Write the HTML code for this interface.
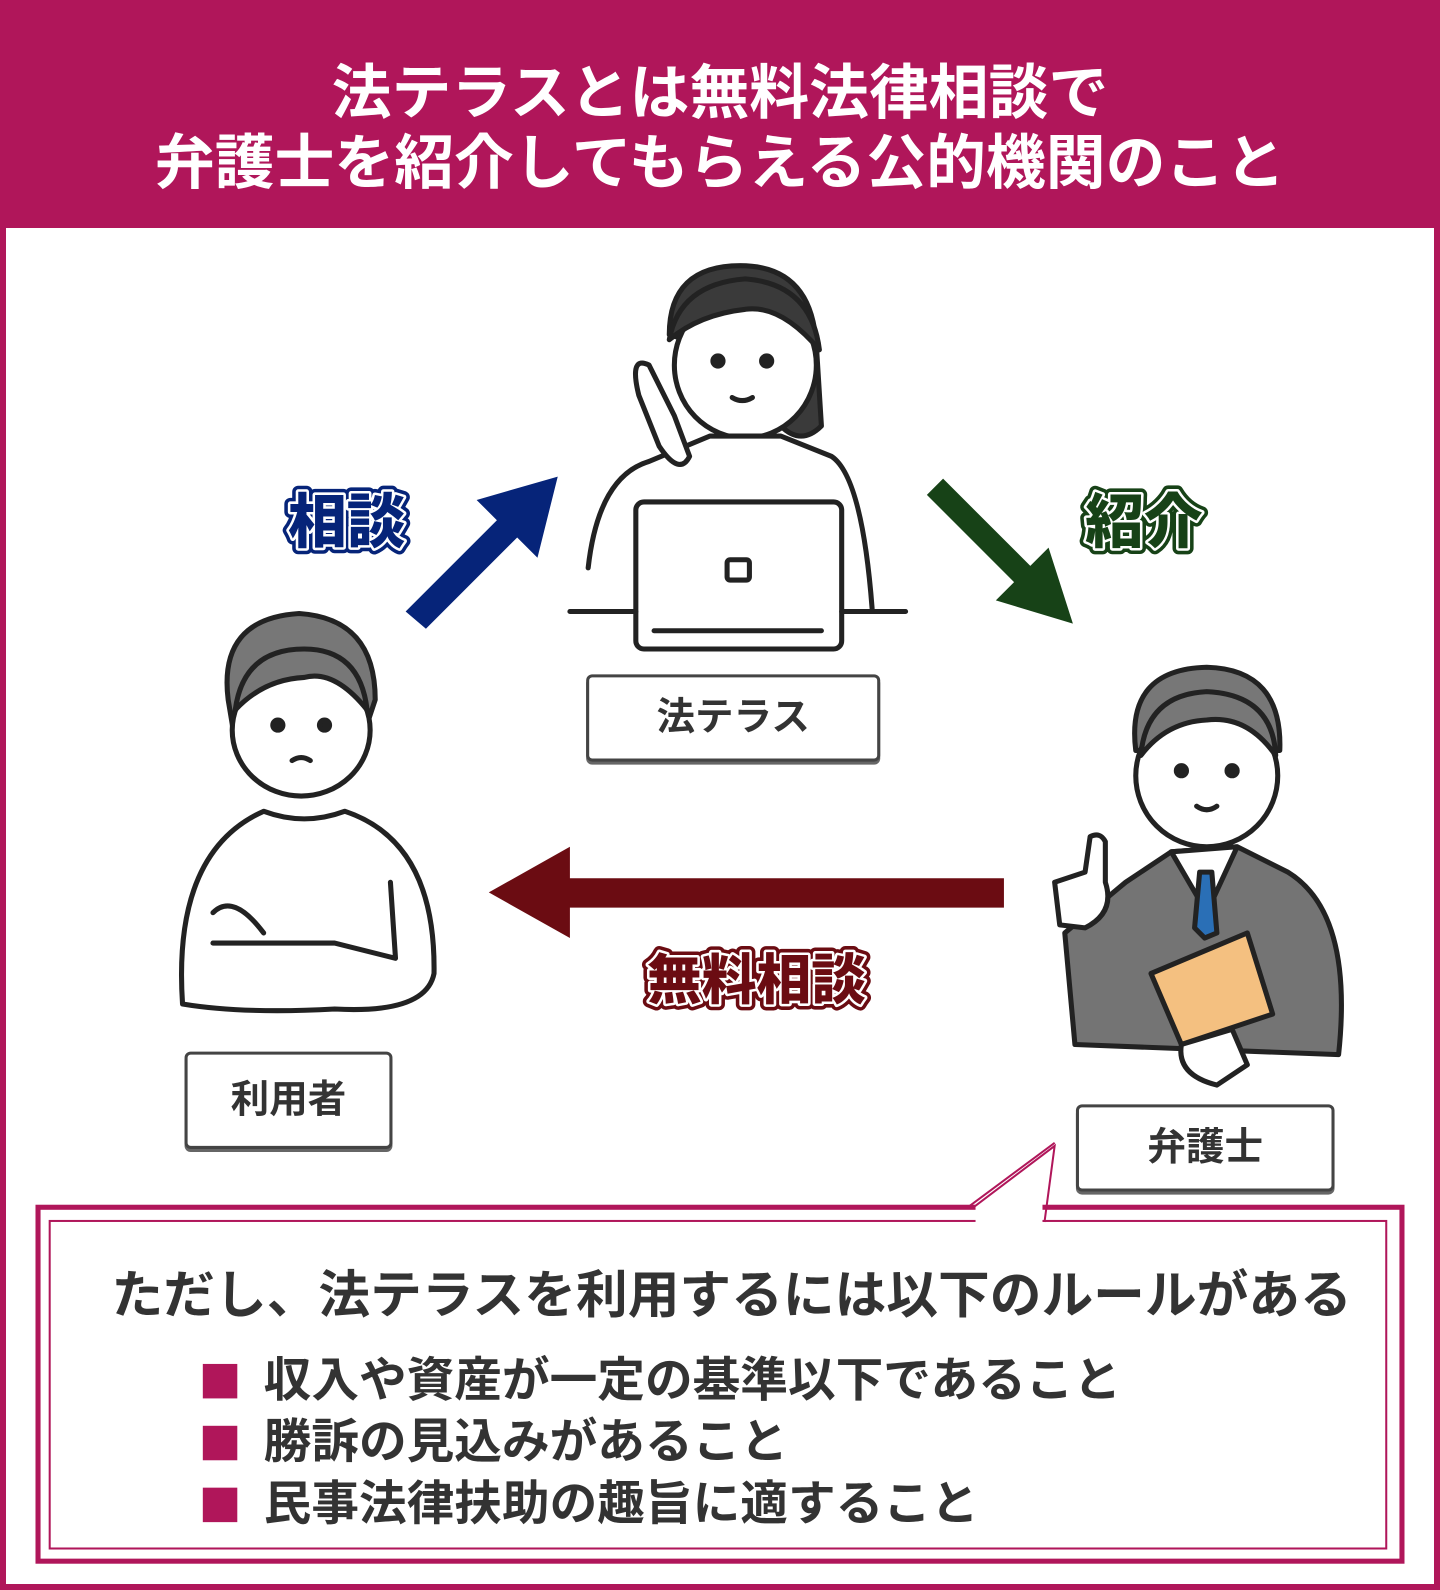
<!DOCTYPE html>
<html><head><meta charset="utf-8"><style>
body{margin:0;width:1440px;height:1590px;background:#fff;font-family:"Liberation Sans","Noto Sans CJK JP",sans-serif;}
#w{position:relative;width:1440px;height:1590px;overflow:hidden;}
#s{position:absolute;left:0;top:0;width:1420px;height:1568px;transform:scale(1.01408);transform-origin:0 0;}
.frame{position:absolute;left:0;top:0;width:1428px;height:1578px;border:6px solid #b0165a;}
.hdr{position:absolute;left:0;top:0;width:1440px;height:228px;background:#b0165a;}
.ht{position:absolute;left:0;top:58px;width:1420px;color:#fff;text-align:center;font-weight:700;font-size:59px;line-height:69px;}
.lbl{position:absolute;border:3px solid #444;border-radius:6px;box-shadow:0 3px 0 #666;background:#fff;font-size:38px;font-weight:700;color:#333;text-align:center;box-sizing:border-box;}
.al{position:absolute;font-weight:900;font-size:58px;}
.box{position:absolute;left:35px;top:1188px;width:1350px;height:354px;border:5px solid #b0165a;box-sizing:border-box;}
.inbox{position:absolute;left:48px;top:1203px;width:1320px;height:325px;border:2px solid #b0165a;box-sizing:border-box;}
.t{position:absolute;color:#333;font-weight:700;font-size:47px;white-space:nowrap;}
.sq{display:inline-block;width:34px;height:34px;background:#b0165a;margin-right:26px;vertical-align:-2px;}
</style></head><body><div id="w">
<div class="hdr"></div>
<div class="frame"></div>
<div id="s">
<div class="ht">法テラスとは無料法律相談で<br>弁護士を紹介してもらえる公的機関のこと</div>

<svg style="position:absolute;left:0;top:0" width="1440" height="1590">
<g stroke="#222" stroke-width="5" stroke-linejoin="round" stroke-linecap="round">
<path d="M660 330 Q660 262 730 262 Q800 262 805 340 L810 420 Q790 440 770 420 L760 360 Z" fill="#3a3a3a"/>
<ellipse cx="735" cy="360" rx="70" ry="72" fill="#fff"/>
<path d="M660 335 Q670 280 735 275 Q800 280 808 345 Q770 300 735 305 Q690 310 660 335Z" fill="#3a3a3a"/>
<circle cx="708" cy="356" r="5" fill="#222"/><circle cx="756" cy="356" r="5" fill="#222"/>
<path d="M722 392 Q732 398 742 392" fill="none"/>
<path d="M580 560 Q590 470 640 455 L700 430 L770 430 L820 450 Q850 470 860 600" fill="#fff"/>
<path d="M640 360 Q620 350 630 390 L650 440 Q670 470 680 450 L665 410 Z" fill="#fff"/>
<rect x="627" y="495" width="203" height="145" rx="8" fill="#fff"/>
<rect x="717" y="552" width="22" height="20" rx="3" fill="#fff"/>
<path d="M645 622 H810 M562 603 H627 M830 603 H893"/>
<path d="M225 690 Q215 610 295 605 Q370 610 370 690 L360 720 L230 720Z" fill="#777"/>
<ellipse cx="297" cy="720" rx="68" ry="65" fill="#fff"/>
<path d="M232 700 Q240 640 300 640 Q355 640 362 700 Q330 660 300 668 Q260 670 232 700Z" fill="#777"/>
<circle cx="274" cy="715" r="5" fill="#222"/><circle cx="320" cy="715" r="5" fill="#222"/>
<path d="M288 750 Q297 744 306 750" fill="none"/>
<path d="M180 990 Q170 840 260 800 Q300 815 340 800 Q430 830 428 960 Q420 1000 330 995 Q240 1000 180 990Z" fill="#fff"/>
<path d="M210 930 L330 930 L390 945 L385 870 M210 900 Q230 880 260 920" fill="none"/>
<path d="M1120 740 Q1110 660 1190 658 Q1265 660 1262 740 Z" fill="#777"/>
<ellipse cx="1190" cy="765" rx="70" ry="70" fill="#fff"/>
<path d="M1125 745 Q1130 685 1190 682 Q1255 685 1258 745 Q1230 705 1190 710 Q1150 712 1125 745Z" fill="#777"/>
<circle cx="1165" cy="760" r="5" fill="#222"/><circle cx="1215" cy="760" r="5" fill="#222"/>
<path d="M1180 795 Q1190 802 1200 795" fill="none"/>
<path d="M1050 920 L1060 1030 L1320 1040 Q1335 900 1270 860 L1220 835 L1155 840 L1110 870 Z" fill="#747474"/>
<path d="M1155 840 L1190 900 L1220 835 Z" fill="#fff"/>
<path d="M1183 860 L1195 860 L1200 920 L1188 925 L1178 915Z" fill="#2a6fb6"/>
<path d="M1135 960 L1230 920 L1255 1000 L1165 1030Z" fill="#f4c080"/>
<path d="M1040 870 L1070 860 L1075 825 Q1085 820 1090 830 L1090 870 Q1100 900 1070 915 L1045 912 Z" fill="#fff"/>
<path d="M1165 1030 Q1160 1060 1200 1070 L1230 1050 L1215 1015 Z" fill="#fff"/>
</g>
<polygon points="400,603 490,513 470,493 550,470 530,550 510,530 420,620" fill="#062479"/>
<polygon points="930,472 1016,558 1034,540 1058,615 982,592 1000,574 914,488" fill="#174217"/>
<polygon points="990,866 562,866 562,835 482,880 562,925 562,895 990,895" fill="#6b0c12"/>
<g font-family="Liberation Sans, Noto Sans CJK JP, sans-serif" font-weight="900" paint-order="stroke" stroke-linejoin="round">
<text x="284" y="535" font-size="58" fill="#062479" stroke="#062479" stroke-width="12">相談</text>
<text x="284" y="535" font-size="58" fill="#062479" stroke="#fff" stroke-width="5">相談</text>
<text x="1070" y="535" font-size="58" fill="#174217" stroke="#174217" stroke-width="12">紹介</text>
<text x="1070" y="535" font-size="58" fill="#174217" stroke="#fff" stroke-width="5">紹介</text>
<text x="638" y="985" font-size="54" fill="#6b0c12" stroke="#6b0c12" stroke-width="12">無料相談</text>
<text x="638" y="985" font-size="54" fill="#6b0c12" stroke="#fff" stroke-width="5">無料相談</text>
</g>
</svg>

<div class="lbl" style="left:578px;top:665px;width:290px;height:86px;line-height:80px;">法テラス</div>
<div class="lbl" style="left:182px;top:1037px;width:205px;height:96px;line-height:90px;">利用者</div>
<div class="lbl" style="left:1061px;top:1089px;width:255px;height:86px;line-height:80px;">弁護士</div>

<div class="box"></div>
<div class="inbox"></div>
<svg style="position:absolute;left:0;top:0" width="1440" height="1590"><rect x="962" y="1183" width="66" height="24" fill="#fff"/><path d="M958 1192 L1040 1130 L1030 1205" fill="none" stroke="#b0165a" stroke-width="2"/><path d="M955 1190 L1040 1127" stroke="#b0165a" stroke-width="2" fill="none"/></svg>
<div class="t" style="left:110px;top:1236px;font-size:51px;">ただし、法テラスを利用するには以下のルールがある</div>
<div class="t" style="left:200px;top:1322px;"><span class="sq"></span>収入や資産が一定の基準以下であること</div>
<div class="t" style="left:200px;top:1383px;"><span class="sq"></span>勝訴の見込みがあること</div>
<div class="t" style="left:200px;top:1444px;"><span class="sq"></span>民事法律扶助の趣旨に適すること</div>
</div>
</div></body></html>
